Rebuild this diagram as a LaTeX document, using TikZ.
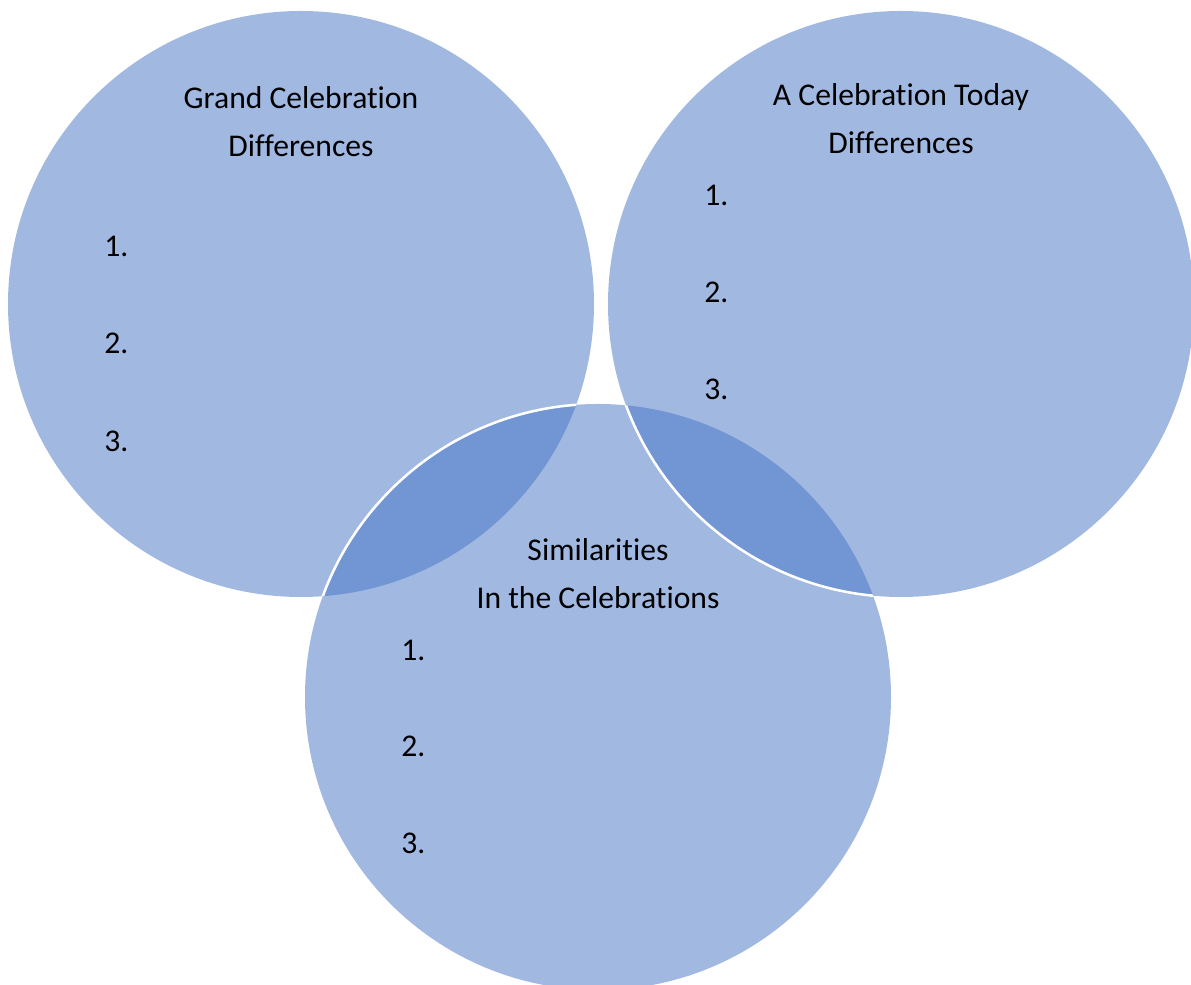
\documentclass[tikz,border=0pt]{standalone}
\usepackage{fontspec}
\setmainfont[Ligatures=NoCommon]{Carlito}
\definecolor{vennblue}{RGB}{68,114,196}
\begin{document}
\begin{tikzpicture}[x=0.025cm,y=0.025cm,
    venn/.style={fill=vennblue,fill opacity=0.5},
    rim/.style={white,line width=1.8pt},
    title/.style={align=center,font=\fontsize{22.5}{34}\selectfont,inner sep=0pt},
    item/.style={anchor=west,font=\fontsize{22.5}{27}\selectfont,inner sep=0pt}]
\useasboundingbox (0,0) rectangle (1191,985);

% Circles
    \def\R{293}
    \coordinate (cGrand) at (301,681);
    \coordinate (cToday) at (901,681);
    \coordinate (cSame) at (598,288);

    \fill[venn] (cGrand) circle (\R);
    \fill[venn] (cSame) circle (\R);
    \fill[venn] (cToday) circle (\R);

% white rims over the lenses
    \begin{scope}
        \clip (cGrand) circle (\R);
        \draw[rim] (cSame) circle (\R);
    \end{scope}
    \begin{scope}
        \clip (cSame) circle (\R);
        \draw[rim] (cToday) circle (\R);
    \end{scope}

% Titles
    \node[title] (grand) at (301,863) {Grand Celebration\\Differences};
    \node[title] (today) at (901,866) {A Celebration Today\\Differences};
    \node[title] (same) at (598,411) {Similarities\\In the Celebrations};

% Numbered lines
    \foreach \n/\y in {1/739,2/642,3/544}
        \node[item] (grand\n) at (104,\y) {\n.};
    \foreach \n/\y in {1/790,2/693,3/596}
        \node[item] (today\n) at (704,\y) {\n.};
    \foreach \n/\y in {1/335,2/239,3/142}
        \node[item] (same\n) at (401,\y) {\n.};

\end{tikzpicture}
\end{document}
